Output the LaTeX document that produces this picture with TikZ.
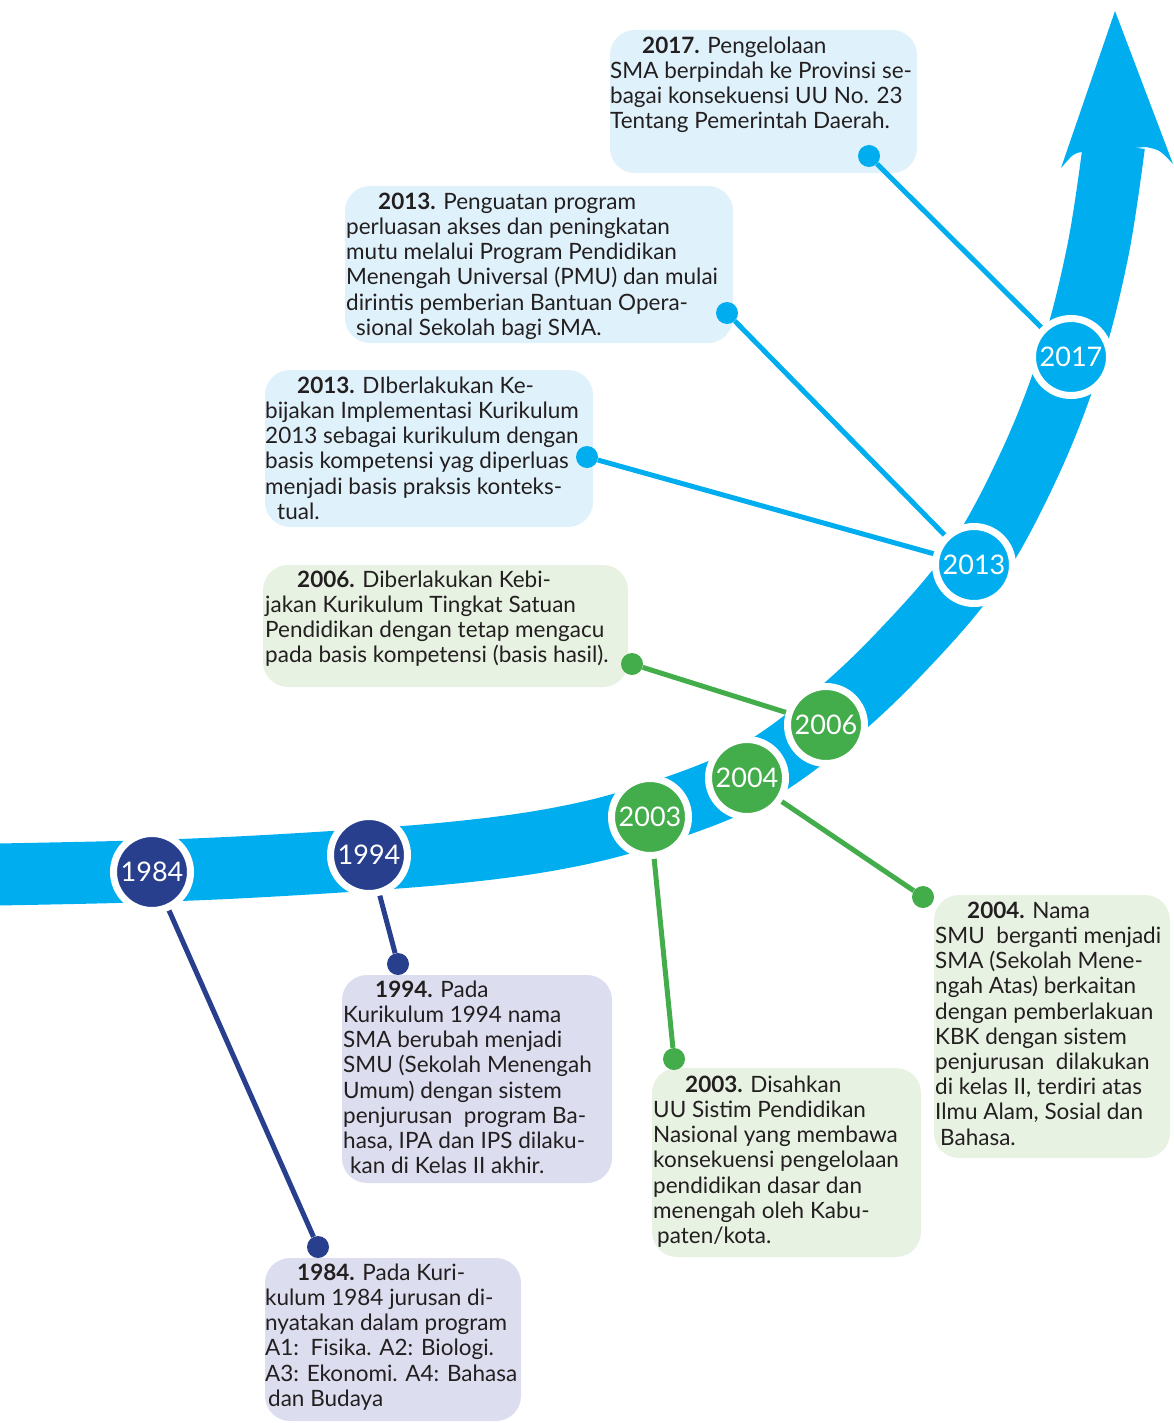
\documentclass[tikz,border=0pt]{standalone}
\usepackage{fontspec}
\setmainfont{Lato}
\definecolor{bandblue}{HTML}{00AEEF}
\definecolor{navy}{HTML}{283F8E}
\definecolor{leaf}{HTML}{43AC4B}
\definecolor{boxblue}{HTML}{DFF1FA}
\definecolor{boxgreen}{HTML}{E8F2E3}
\definecolor{boxlav}{HTML}{DCDDEE}
\definecolor{ink}{HTML}{231F20}
\newcommand{\yr}[1]{\hspace*{32pt}\rule{0pt}{18pt}\textbf{#1}}
\begin{document}
\begin{tikzpicture}[x=1pt,y=-1pt,
    panel/.style={fill=#1,rounded corners=25pt},
    txt/.style={anchor=north west,inner sep=0pt,align=left,text=ink,
      font=\fontsize{22.5}{25.2}\selectfont},
    link/.style={draw=#1,line width=5pt},
    dot/.style={circle,fill=#1,inner sep=0pt,minimum size=22pt},
    year/.style={circle,fill=#1,draw=white,line width=7pt,inner sep=0pt,
      minimum size=77pt,text=white,font=\fontsize{27}{27}\selectfont}]
  \useasboundingbox (0,0) rectangle (1173,1423);
  \draw[bandblue,line width=62pt] plot[smooth,tension=0.6] coordinates {
    (-30,875) (152,871) (300,864) (450,853) (560,838) (650,815) (747,777)
    (826,722) (900,653) (974,566) (1030,463) (1071,357) (1098,250) (1114,145)};
  \fill[bandblue] (1115,11) -- (1173,164) .. controls (1160,150) .. (1146,147)
    -- (1083,152) .. controls (1074,153) .. (1061,168) -- cycle;
  \fill[panel=boxblue] (610,30) rectangle (917,173);
  \fill[panel=boxblue] (345,186) rectangle (733,343);
  \fill[panel=boxblue] (265,370) rectangle (593,527);
  \fill[panel=boxgreen] (263,565) rectangle (628,687);
  \fill[panel=boxlav] (342,975) rectangle (612,1183);
  \fill[panel=boxgreen] (652,1068) rectangle (921,1257);
  \fill[panel=boxgreen] (934,895) rectangle (1170,1158);
  \fill[panel=boxlav] (265,1258) rectangle (521,1421);
  \node[txt] (t2017) at (610,35) {\yr{2017.} Pengelolaan\\
    SMA berpindah ke Provinsi se-\\
    bagai konsekuensi UU No. 23\\
    Tentang Pemerintah Daerah.};
  \node[txt] (t2013b) at (346,191) {\yr{2013.} Penguatan program\\
    perluasan akses dan peningkatan\\
    mutu melalui Program Pendidikan\\
    Menengah Universal (PMU) dan mulai\\
    dirintis pemberian Bantuan Opera-\\
    \hspace*{10pt}sional Sekolah bagi SMA.};
  \node[txt] (t2013a) at (265,375) {\yr{2013.} DIberlakukan Ke-\\
    bijakan Implementasi Kurikulum\\
    2013 sebagai kurikulum dengan\\
    basis kompetensi yag diperluas\\
    menjadi basis praksis konteks-\\
    \hspace*{12pt}tual.};
  \node[txt] (t2006) at (265,569) {\yr{2006.} Diberlakukan Kebi-\\
    jakan Kurikulum Tingkat Satuan\\
    Pendidikan dengan tetap mengacu\\
    pada basis kompetensi (basis hasil).};
  \node[txt] (t1994) at (343,979) {\yr{1994.} Pada\\
    Kurikulum 1994 nama\\
    SMA berubah menjadi\\
    SMU (Sekolah Menengah\\
    Umum) dengan sistem\\
    penjurusan\ \ program Ba-\\
    hasa, IPA dan IPS dilaku-\\
    \hspace*{7pt}kan di Kelas II akhir.};
  \node[txt] (t2003) at (653,1074) {\yr{2003.} Disahkan\\
    UU Sistim Pendidikan\\
    Nasional yang membawa\\
    konsekuensi pengelolaan\\
    pendidikan dasar dan\\
    menengah oleh Kabu-\\
    \hspace*{4pt}paten/kota.};
  \node[txt] (t2004) at (935,900) {\yr{2004.} Nama\\
    SMU\ \ berganti menjadi\\
    SMA (Sekolah Mene-\\
    ngah Atas) berkaitan\\
    dengan pemberlakuan\\
    KBK dengan sistem\\
    penjurusan\ \ dilakukan\\
    di kelas II, terdiri atas\\
    Ilmu Alam, Sosial dan\\
    \hspace*{5pt}Bahasa.};
  \node[txt] (t1984) at (265,1262) {\yr{1984.} Pada Kuri-\\
    kulum 1984 jurusan di-\\
    nyatakan dalam program\\
    A1:\ \ Fisika. A2: Biologi.\\
    A3: Ekonomi. A4: Bahasa\\
    \hspace*{3pt}dan Budaya};
  \coordinate (p1984) at (152,872);
  \coordinate (p1994) at (369,855);
  \coordinate (p2003) at (650,817);
  \coordinate (p2004) at (747,778);
  \coordinate (p2006) at (826,725);
  \coordinate (p2013) at (974,565);
  \coordinate (p2017) at (1071,357);
  \node[dot=navy] (d1984) at (318,1247) {};
  \node[dot=navy] (d1994) at (398,964) {};
  \node[dot=leaf] (d2003) at (674,1059) {};
  \node[dot=leaf] (d2004) at (923,897) {};
  \node[dot=leaf] (d2006) at (632,664) {};
  \node[dot=bandblue] (d2013a) at (587,457) {};
  \node[dot=bandblue] (d2013b) at (727,313) {};
  \node[dot=bandblue] (d2017) at (869,156) {};
  \begin{scope}[-]
    \draw[link=navy] (p1984) to (d1984);
    \draw[link=navy] (p1994) to (d1994);
    \draw[link=leaf] (p2003) to (d2003);
    \draw[link=leaf] (p2004) to (d2004);
    \draw[link=leaf] (p2006) to (d2006);
    \draw[link=bandblue] (p2013) to (d2013a);
    \draw[link=bandblue] (p2013) to (d2013b);
    \draw[link=bandblue] (p2017) to (d2017);
  \end{scope}
  \node[year=navy] (c1984) at (p1984) {1984};
  \node[year=navy] (c1994) at (p1994) {1994};
  \node[year=leaf] (c2003) at (p2003) {2003};
  \node[year=leaf] (c2004) at (p2004) {2004};
  \node[year=leaf] (c2006) at (p2006) {2006};
  \node[year=bandblue] (c2013) at (p2013) {2013};
  \node[year=bandblue] (c2017) at (p2017) {2017};
\end{tikzpicture}
\end{document}
